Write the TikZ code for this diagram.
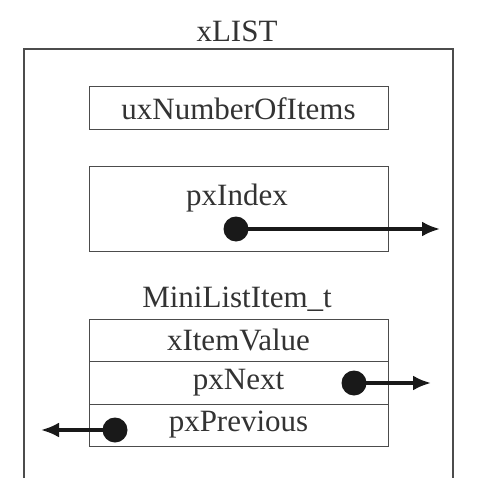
\documentclass[tikz,border=0pt]{standalone}
\usepackage{fontspec}
\setmainfont{Liberation Serif}
\usepackage{tikz}
\usetikzlibrary{arrows.meta,calc,positioning}

\begin{document}
\begin{tikzpicture}[x=1pt, y=1pt,
  every node/.style={font=\fontsize{31}{36}\selectfont, text=black!80, inner sep=0pt},
  field/.style={draw=black!70, line width=1pt, minimum width=299pt},
  dot/.style={circle, fill=black!90, minimum size=25pt},
  ptr/.style={-{Latex[length=18pt,width=15pt]}, line width=3.2pt, black!90}]

\useasboundingbox (0,0) rectangle (483,-497);

% Struttura xLIST
\node (title) at (237,-31) {xLIST};
\draw[black!70, line width=1.2pt] (24,-478) |- (453,-49) -- (453,-478);

\node[field, minimum height=43pt] (count) at (238.5,-108.5) {uxNumberOfItems};

\node[field, minimum height=85pt] (index) at (238.5,-208.5) {};
\node (indexlbl) at (237,-198) {pxIndex};
\node[dot] (idot) at (236,-229) {};
\coordinate (iend) at (440,-229);
\draw[ptr] (idot.center) -- (iend);

% Elemento della lista
\node (itemlbl) at (237,-299) {MiniListItem\_t};
\node[field, minimum height=42pt] (value) at (238.5,-340) {xItemValue};
\node[field, minimum height=43pt] (next) at (238.5,-382.5) {pxNext};
\node[field, minimum height=42pt] (prev) at (238.5,-425) {pxPrevious};

\node[dot] (ndot) at (354,-383) {};
\coordinate (nend) at (431,-383);
\draw[ptr] (ndot.center) -- (nend);

\node[dot] (pdot) at (115,-430) {};
\coordinate (pend) at (41,-430);
\draw[ptr] (pdot.center) -- (pend);

\end{tikzpicture}
\end{document}
